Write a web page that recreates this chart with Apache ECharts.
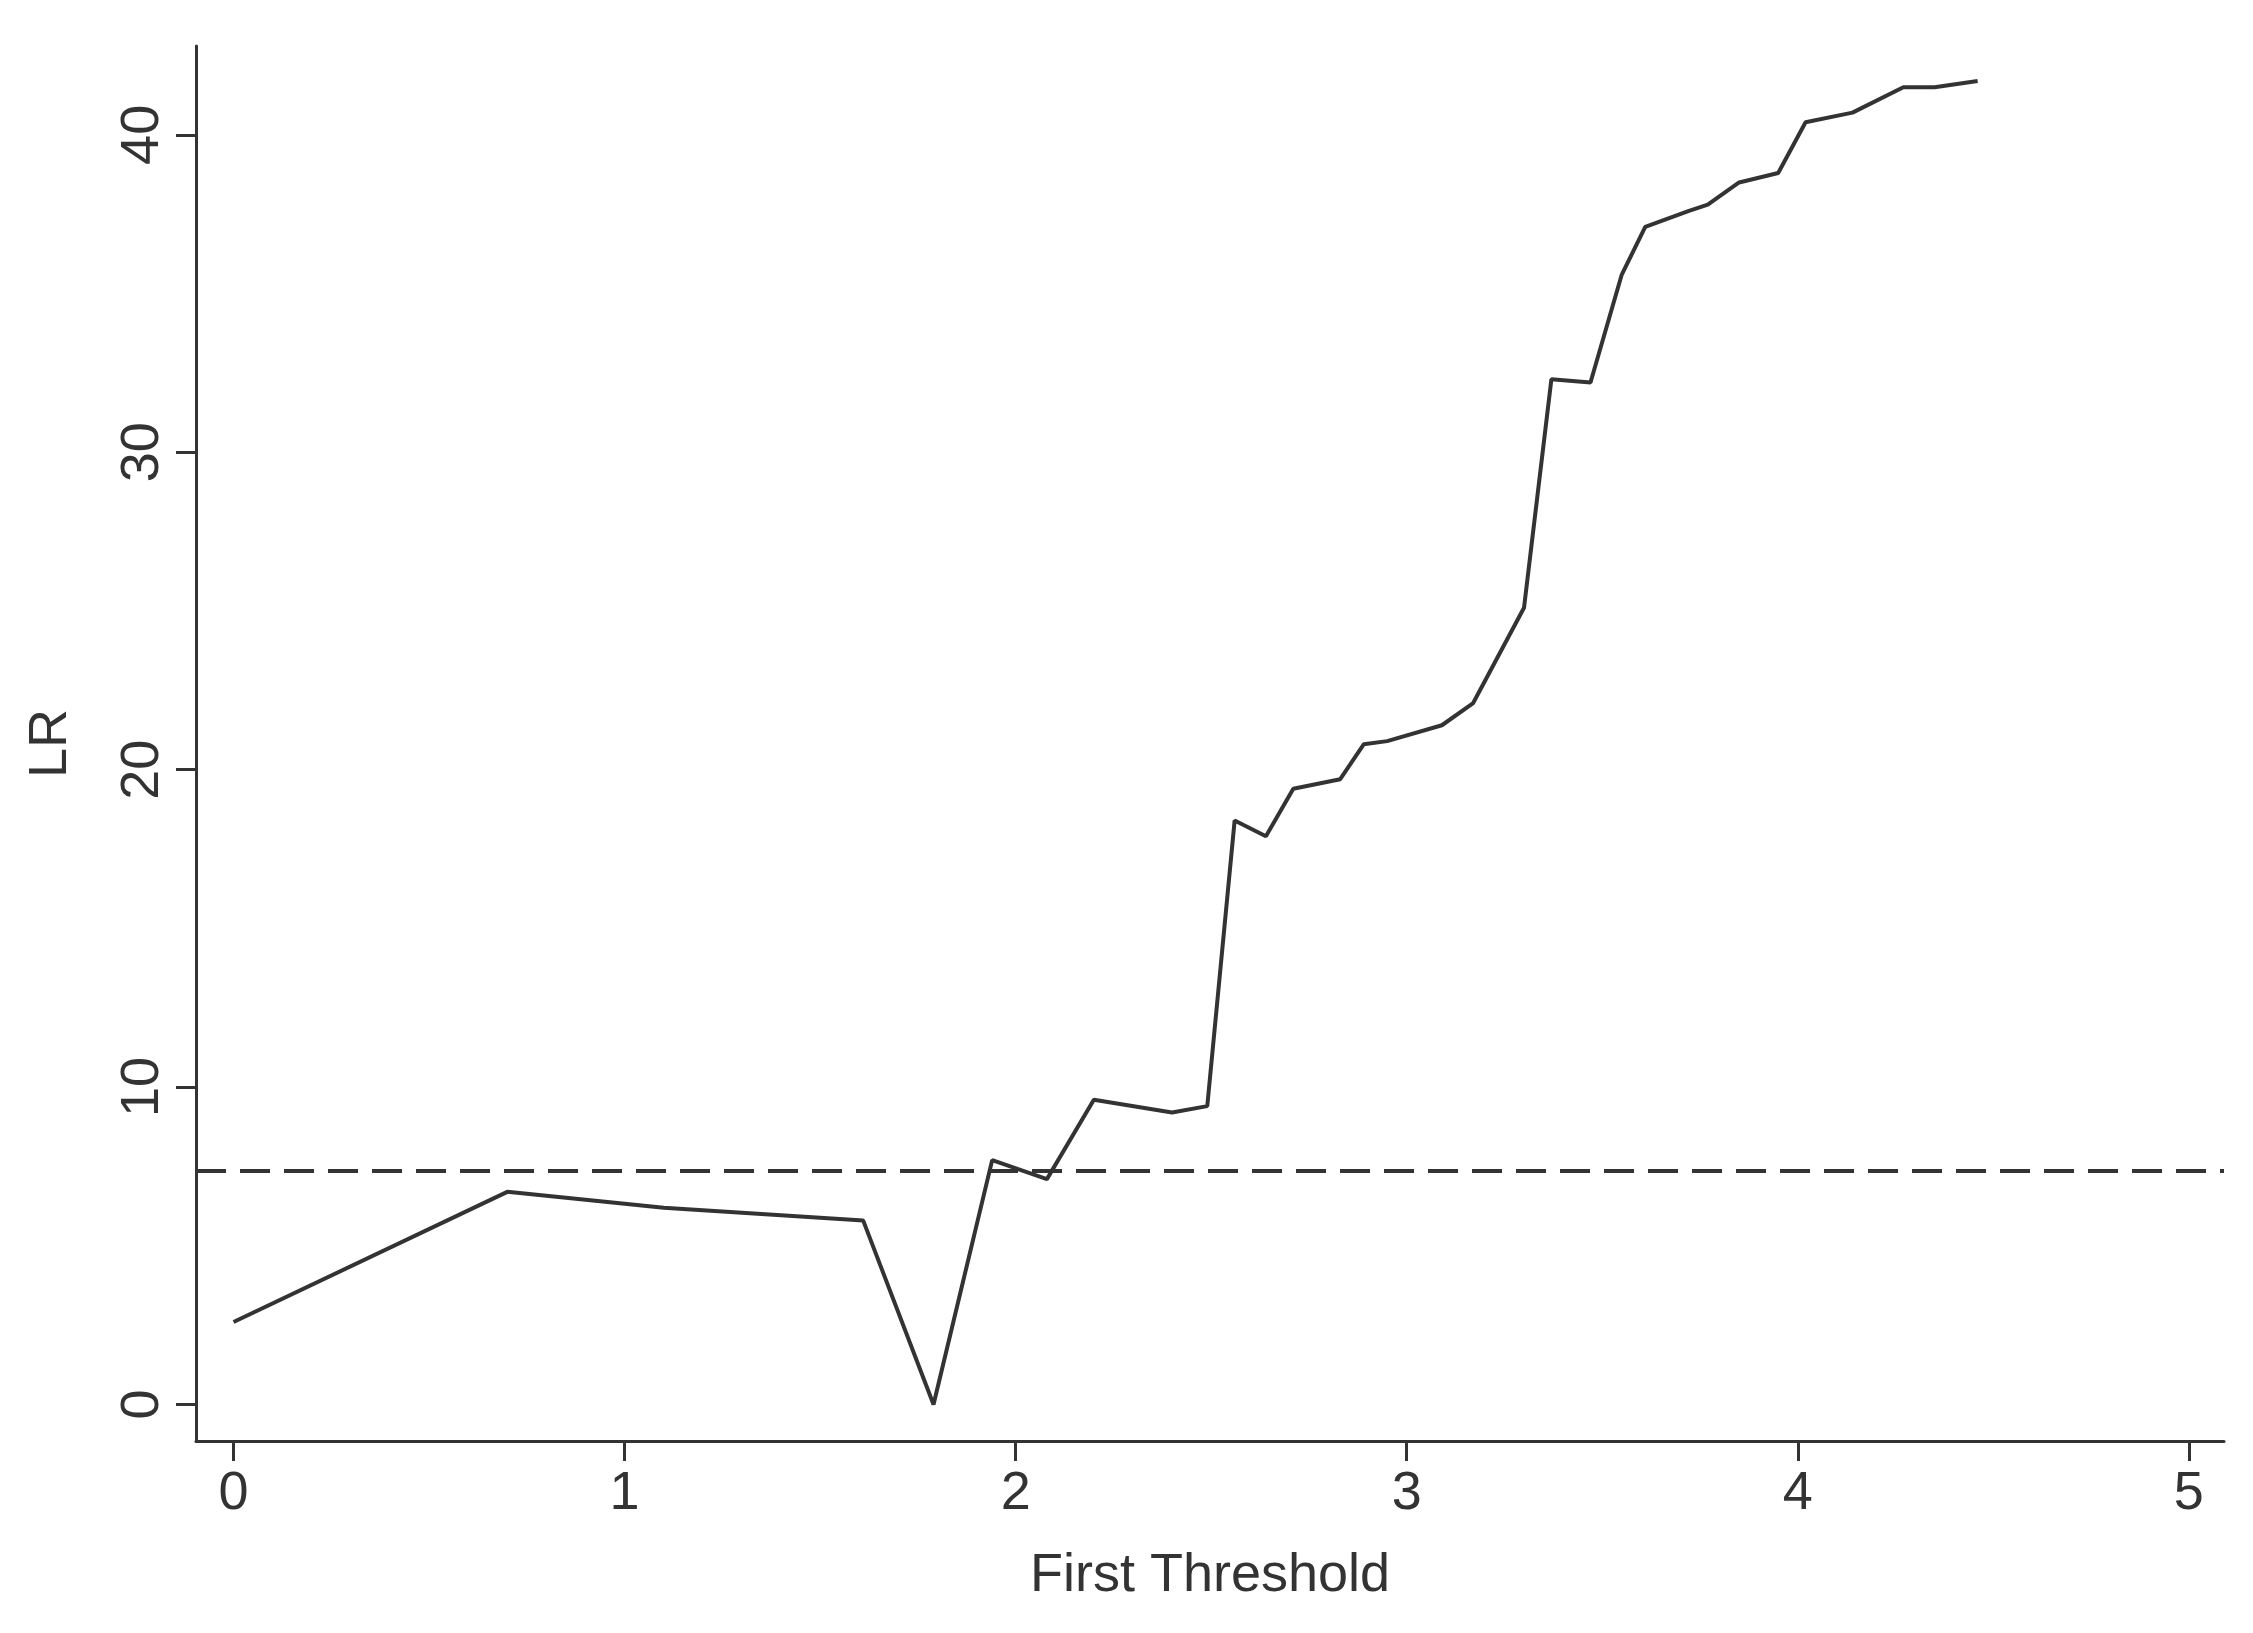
<!DOCTYPE html>
<html>
<head>
<meta charset="utf-8">
<script src="https://cdn.jsdelivr.net/npm/echarts@6/dist/echarts.min.js"></script>
<style>
  html, body { margin: 0; padding: 0; background: #fff; }
  #chart { width: 2253px; height: 1633px; }
</style>
</head>
<body>
<div id="chart"></div>
<script>
// threshold values (x) and LR statistic (y)
const thresholds = [0, 0.70, 1.10, 1.61, 1.79, 1.94, 2.08, 2.20, 2.40, 2.49, 2.56, 2.64, 2.71, 2.83, 2.89, 2.95,
  3.09, 3.17, 3.30, 3.37, 3.47, 3.55, 3.61, 3.72, 3.77, 3.85, 3.95, 4.02, 4.14, 4.27, 4.35, 4.46];
const lrValues = [2.6, 6.7, 6.2, 5.8, 0, 7.7, 7.1, 9.6, 9.2, 9.4, 18.4, 17.9, 19.4, 19.7, 20.8, 20.9,
  21.4, 22.1, 25.1, 32.3, 32.2, 35.6, 37.1, 37.6, 37.8, 38.5, 38.8, 40.4, 40.7, 41.5, 41.5, 41.7];
const criticalValue = 7.35;
const xTicks = [0, 1, 2, 3, 4, 5];
const yTicks = [0, 10, 20, 30, 40];

const ink = '#333';
const font = 'Liberation Sans, Arial, sans-serif';
const chart = echarts.init(document.getElementById('chart'));

chart.setOption({
  backgroundColor: '#fff',
  animation: false,
  grid: { left: 196, top: 46, right: 29, bottom: 192 },
  xAxis: {
    type: 'value',
    min: -0.096,
    max: 5.09,
    name: 'First Threshold',
    nameLocation: 'middle',
    nameGap: 108,
    nameTextStyle: { fontSize: 54, color: ink, fontFamily: font },
    axisLine: { onZero: false, lineStyle: { color: ink, width: 3 } },
    axisTick: { show: true, length: 20, customValues: xTicks, lineStyle: { color: ink, width: 3 } },
    axisLabel: { customValues: xTicks, fontSize: 54, color: ink, fontFamily: font, margin: 26 },
    splitLine: { show: false }
  },
  yAxis: {
    type: 'value',
    min: -1.15,
    max: 42.8,
    name: 'LR',
    nameLocation: 'middle',
    nameGap: 118,
    nameRotate: 90,
    nameTextStyle: { fontSize: 54, color: ink, fontFamily: font },
    axisLine: { show: true, onZero: false, lineStyle: { color: ink, width: 3 } },
    axisTick: { show: true, length: 20, customValues: yTicks, lineStyle: { color: ink, width: 3 } },
    axisLabel: { customValues: yTicks, rotate: 90, fontSize: 54, color: ink, fontFamily: font, margin: 26 },
    splitLine: { show: false }
  },
  series: [{
    type: 'line',
    data: thresholds.map((x, i) => [x, lrValues[i]]),
    showSymbol: false,
    lineStyle: { color: ink, width: 4 },
    markLine: {
      silent: true,
      symbol: 'none',
      label: { show: false },
      lineStyle: { color: ink, width: 4, type: [30, 14] },
      data: [{ yAxis: criticalValue }]
    }
  }]
});
</script>
</body>
</html>
